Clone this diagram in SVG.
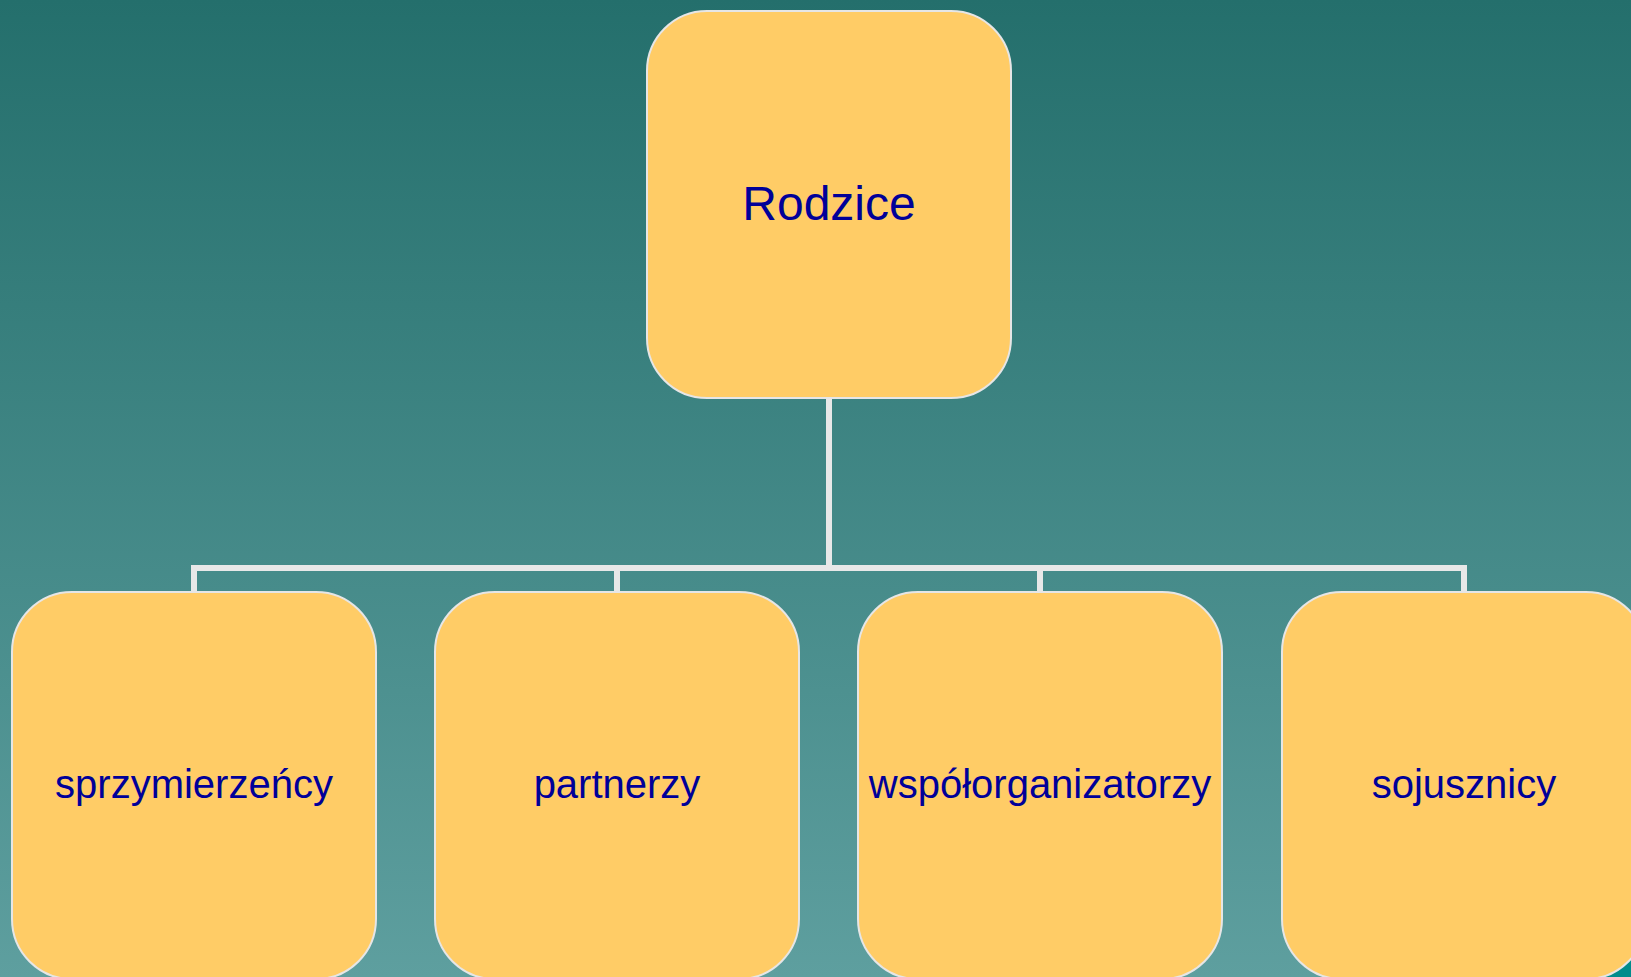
<svg xmlns="http://www.w3.org/2000/svg" width="1631" height="977" viewBox="0 0 1631 977">
  <defs>
    <linearGradient id="bg" x1="0" y1="0" x2="0" y2="1">
      <stop offset="0" stop-color="#246F6C"/>
      <stop offset="1" stop-color="#5E9F9F"/>
    </linearGradient>
    <style>
      .box { fill: #FFCC66; stroke: #E6E6E6; stroke-width: 2; }
      .lbl { font-family: "Liberation Sans", Arial, sans-serif; font-size: 40px; fill: #000099; text-anchor: middle; }
      .top { font-size: 48px; }
      .conn { fill: none; stroke: #E8E8E8; stroke-width: 6; }
    </style>
  </defs>
  <rect x="0" y="0" width="1631" height="977" fill="url(#bg)"/>
  <rect x="1590" y="930" width="41" height="47" fill="#008C8C"/>
  <g id="connectors">
    <path class="conn" d="M829 398 V568 M194 592 V568 H1464 V592 M617 568 V592 M1040 568 V592"/>
  </g>
  <g id="node-rodzice">
    <rect class="box" x="647" y="11" width="364" height="387" rx="60" ry="60"/>
    <text class="lbl top" x="829" y="220">Rodzice</text>
  </g>
  <g id="node-sprzymierzency">
    <rect class="box" x="12" y="592" width="364" height="387" rx="60" ry="60"/>
    <text class="lbl" x="194" y="798">sprzymierzeńcy</text>
  </g>
  <g id="node-partnerzy">
    <rect class="box" x="435" y="592" width="364" height="387" rx="60" ry="60"/>
    <text class="lbl" x="617" y="798">partnerzy</text>
  </g>
  <g id="node-wspolorganizatorzy">
    <rect class="box" x="858" y="592" width="364" height="387" rx="60" ry="60"/>
    <text class="lbl" x="1040" y="798">współorganizatorzy</text>
  </g>
  <g id="node-sojusznicy">
    <rect class="box" x="1282" y="592" width="364" height="387" rx="60" ry="60"/>
    <text class="lbl" x="1464" y="798">sojusznicy</text>
  </g>
</svg>
